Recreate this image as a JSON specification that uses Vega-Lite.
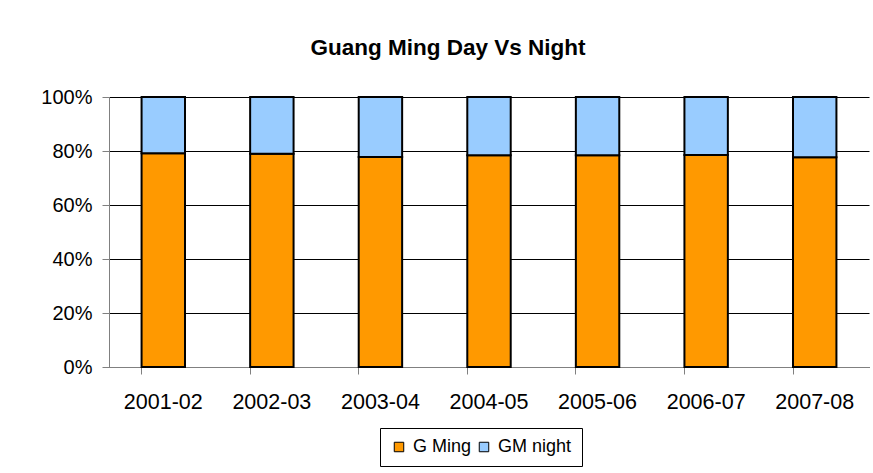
{
  "$schema": "https://vega.github.io/schema/vega-lite/v6.json",
  "width": 760,
  "height": 270,
  "autosize": {"type": "none"},
  "padding": {"left": 109, "top": 97, "right": 4, "bottom": 106},
  "background": "white",
  "title": {
    "text": "Guang Ming Day Vs Night",
    "font": "Liberation Sans",
    "fontSize": 22.5,
    "fontWeight": "bold",
    "color": "black",
    "anchor": "middle",
    "dx": -41,
    "offset": 28
  },
  "data": {
    "values": [
      {"year": "2001-02", "series": "G Ming", "value": 79.2},
      {"year": "2001-02", "series": "GM night", "value": 20.8},
      {"year": "2002-03", "series": "G Ming", "value": 79.0},
      {"year": "2002-03", "series": "GM night", "value": 21.0},
      {"year": "2003-04", "series": "G Ming", "value": 77.8},
      {"year": "2003-04", "series": "GM night", "value": 22.2},
      {"year": "2004-05", "series": "G Ming", "value": 78.4},
      {"year": "2004-05", "series": "GM night", "value": 21.6},
      {"year": "2005-06", "series": "G Ming", "value": 78.4},
      {"year": "2005-06", "series": "GM night", "value": 21.6},
      {"year": "2006-07", "series": "G Ming", "value": 78.5},
      {"year": "2006-07", "series": "GM night", "value": 21.5},
      {"year": "2007-08", "series": "G Ming", "value": 77.7},
      {"year": "2007-08", "series": "GM night", "value": 22.3}
    ]
  },
  "mark": {"type": "bar", "stroke": "black", "strokeWidth": 2},
  "encoding": {
    "x": {
      "field": "year",
      "type": "nominal",
      "scale": {"paddingInner": 0.6, "paddingOuter": 0.3},
      "axis": {
        "title": null,
        "labelAngle": 0,
        "labelFont": "Liberation Sans",
        "labelFontSize": 21.5,
        "labelColor": "black",
        "labelPadding": 17,
        "bandPosition": 0,
        "tickSize": 7,
        "tickColor": "#808080",
        "domainColor": "#808080",
        "grid": false
      }
    },
    "y": {
      "field": "value",
      "type": "quantitative",
      "stack": "normalize",
      "scale": {"domain": [0, 1]},
      "axis": {
        "title": null,
        "values": [0, 0.2, 0.4, 0.6, 0.8, 1],
        "format": ".0%",
        "labelFont": "Liberation Sans",
        "labelFontSize": 20,
        "labelColor": "black",
        "labelPadding": 10,
        "tickSize": 7,
        "tickColor": "#808080",
        "domainColor": "#808080",
        "grid": true,
        "gridColor": "black",
        "gridOpacity": 1,
        "gridWidth": 1
      }
    },
    "order": {"field": "series", "sort": "ascending"},
    "color": {
      "field": "series",
      "type": "nominal",
      "scale": {"domain": ["G Ming", "GM night"], "range": ["#FF9900", "#99CCFF"]},
      "legend": {
        "title": null,
        "orient": "none",
        "direction": "horizontal",
        "legendX": 271,
        "legendY": 331,
        "strokeColor": "black",
        "padding": 10,
        "symbolType": "square",
        "symbolSize": 90,
        "symbolStrokeColor": "black",
        "symbolStrokeWidth": 1,
        "labelFont": "Liberation Sans",
        "labelFontSize": 18,
        "labelColor": "black",
        "labelOffset": 5,
        "columnPadding": 3,
        "symbolOffset": 0
      }
    }
  },
  "config": {"view": {"stroke": null}}
}
